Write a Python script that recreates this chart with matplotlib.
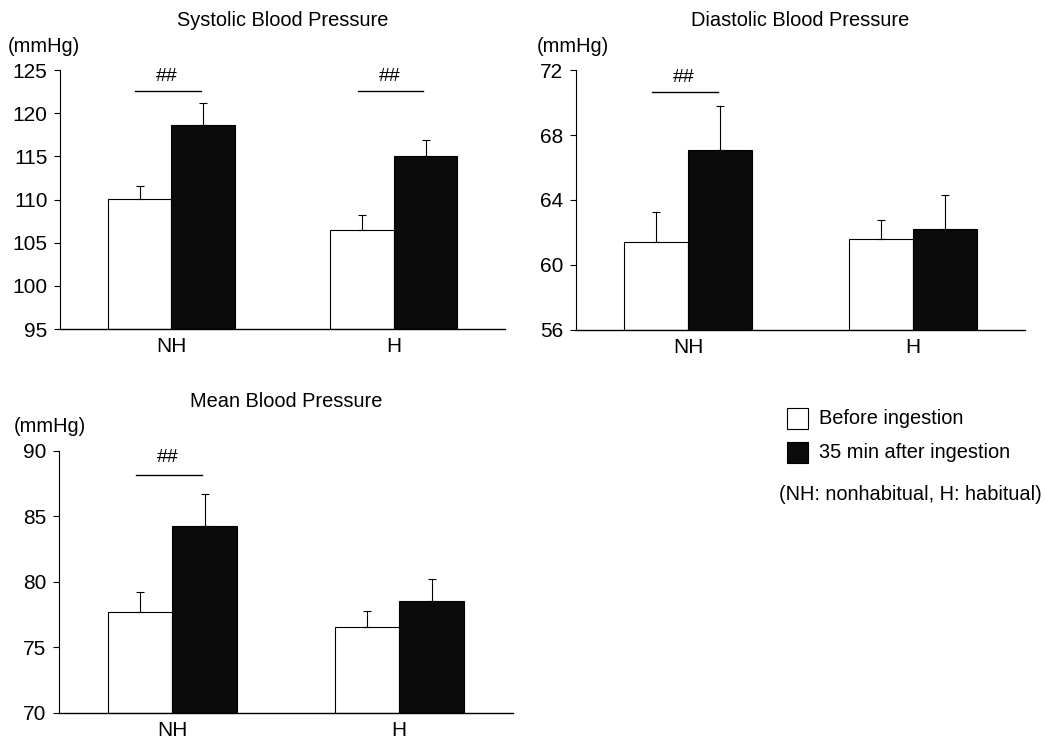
import matplotlib
matplotlib.use('Agg')
import matplotlib.pyplot as plt
import matplotlib.patches as patches
import numpy as np

plt.rcParams['font.family'] = ['Liberation Sans', 'DejaVu Sans']

groups = ["NH", "H"]
series_labels = ["Before ingestion", "35 min after ingestion"]
note = "(NH: nonhabitual, H: habitual)"

# systolic
sys_before = [110.1, 106.5]
sys_before_err = [1.5, 1.7]
sys_after = [118.7, 115.1]
sys_after_err = [2.5, 1.8]
sys_ticks = [95, 100, 105, 110, 115, 120, 125]

# diastolic
dia_before = [61.4, 61.6]
dia_before_err = [1.85, 1.15]
dia_after = [67.1, 62.2]
dia_after_err = [2.7, 2.1]
dia_ticks = [56, 60, 64, 68, 72]

# mean
mean_before = [77.7, 76.55]
mean_before_err = [1.5, 1.2]
mean_after = [84.3, 78.5]
mean_after_err = [2.4, 1.75]
mean_ticks = [70, 75, 80, 85, 90]

# significance marks: (group index, bar line level, text level)
sys_sig = [(0, 122.6, 124.3), (1, 122.6, 124.3)]
dia_sig = [(0, 70.65, 71.55)]
mean_sig = [(0, 88.2, 89.5)]

BAR_W = 0.285
FS = 14.4
TICK_FS = 15


def draw_panel(ax, title, before, before_err, after, after_err, ticks, sig, unit_x, unit_y):
    x = np.arange(len(groups))
    xb = x - BAR_W / 2
    xa = x + BAR_W / 2
    base = ticks[0]
    ax.bar(xb, np.array(before) - base, BAR_W, bottom=base, color='white',
           edgecolor='black', linewidth=0.8, zorder=2)
    ax.bar(xa, np.array(after) - base, BAR_W, bottom=base, color='#0b0b0b',
           edgecolor='black', linewidth=0.8, zorder=2)
    ax.errorbar(xb, before, yerr=[np.zeros(len(before)), before_err], fmt='none',
                ecolor='black', elinewidth=0.8, capsize=3, capthick=0.8, zorder=3)
    ax.errorbar(xa, after, yerr=[np.zeros(len(after)), after_err], fmt='none',
                ecolor='black', elinewidth=0.8, capsize=3, capthick=0.8, zorder=3)

    for gi, ly, ty in sig:
        ax.plot([xb[gi] - 0.02, xa[gi] - 0.01], [ly, ly], color='black', lw=1.0, clip_on=False)
        ax.text(x[gi] - 0.02, ty, "##", ha='center', va='center', fontsize=14, clip_on=False)

    ax.set_xlim(-0.5, 1.5)
    ax.set_ylim(ticks[0], ticks[-1])
    ax.set_yticks(ticks)
    ax.set_xticks(x)
    ax.set_xticklabels(groups, fontsize=TICK_FS)
    ax.tick_params(axis='x', length=0, pad=6)
    ax.tick_params(axis='y', length=4, width=0.8, labelsize=TICK_FS, pad=5)
    for s in ['top', 'right']:
        ax.spines[s].set_visible(False)
    ax.spines['left'].set_linewidth(0.8)
    ax.spines['bottom'].set_linewidth(1.0)
    ax.set_title(title, fontsize=FS, pad=32)
    ax.text(unit_x, unit_y, "(mmHg)", transform=ax.transAxes, fontsize=FS,
            ha='left', va='center')


fig = plt.figure(figsize=(10.45, 7.38), dpi=100)

ax1 = fig.add_axes([0.0574, 0.554, 0.426, 0.351])
draw_panel(ax1, "Systolic Blood Pressure", sys_before, sys_before_err,
           sys_after, sys_after_err, sys_ticks, sys_sig, -0.117, 1.09)

ax2 = fig.add_axes([0.551, 0.553, 0.430, 0.352])
draw_panel(ax2, "Diastolic Blood Pressure", dia_before, dia_before_err,
           dia_after, dia_after_err, dia_ticks, dia_sig, -0.087, 1.09)

ax3 = fig.add_axes([0.0565, 0.0343, 0.434, 0.3546])
draw_panel(ax3, "Mean Blood Pressure", mean_before, mean_before_err,
           mean_after, mean_after_err, mean_ticks, mean_sig, -0.10, 1.092)

# legend, drawn by hand in figure pixels
W, H = 1045, 738
box_colors = ['white', '#0b0b0b']
box_tops = [408, 442]
for lab, col, top in zip(series_labels, box_colors, box_tops):
    fig.add_artist(patches.Rectangle((787 / W, 1 - (top + 21) / H), 21 / W, 21 / H,
                                     facecolor=col, edgecolor='black', linewidth=0.8,
                                     transform=fig.transFigure))
    fig.text(819 / W, 1 - (top + 11) / H, lab, fontsize=FS, ha='left', va='center')
fig.text(1042 / W, 1 - 495 / H, note, fontsize=FS, ha='right', va='center')

fig.savefig('out.png', dpi=100)
